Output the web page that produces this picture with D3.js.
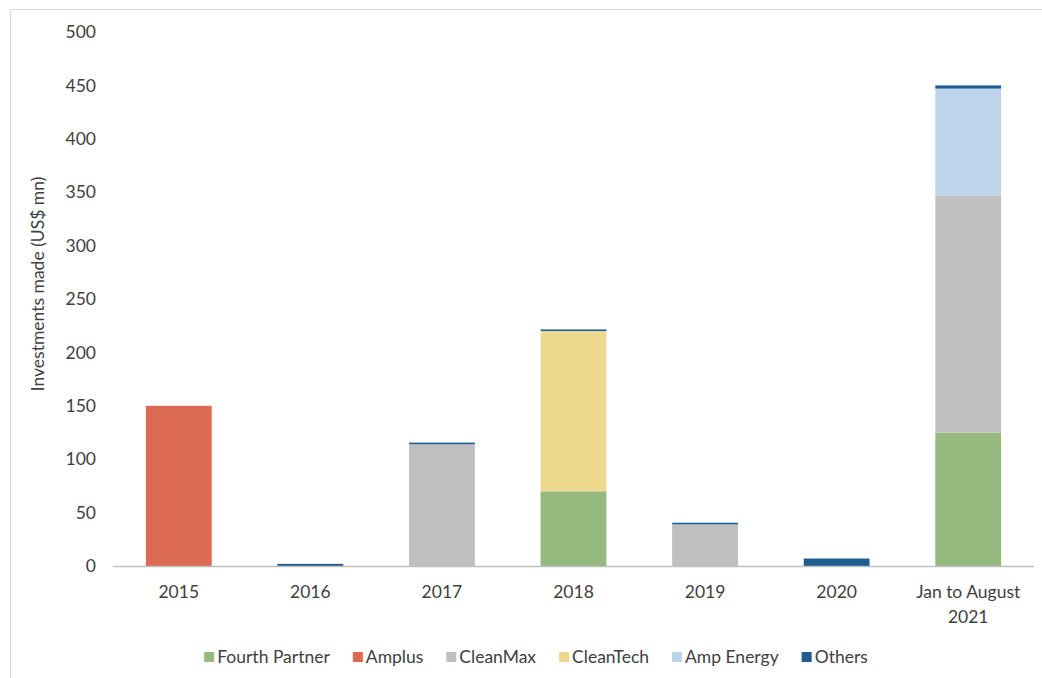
<!DOCTYPE html>
<html>
<head>
<meta charset="utf-8">
<script src="https://cdn.jsdelivr.net/npm/d3@7"></script>
<style>
  body { margin: 0; background: #fff; }
  text { font-family: Lato, "Open Sans", sans-serif; fill: #404040; }
</style>
</head>
<body>
<svg id="chart"></svg>
<script>
var width = 1042, height = 678;

// data
var categories = ["2015", "2016", "2017", "2018", "2019", "2020", "Jan to August 2021"];
var seriesNames = ["Fourth Partner", "Amplus", "CleanMax", "CleanTech", "Amp Energy", "Others"];
var fourthPartner = [0, 0, 0, 70, 0, 0, 125];
var amplus        = [150, 0, 0, 0, 0, 0, 0];
var cleanMax      = [0, 0, 114, 0, 39, 0, 222];
var cleanTech     = [0, 0, 0, 150, 0, 0, 0];
var ampEnergy     = [0, 0, 0, 0, 0, 0, 100];
var others        = [0, 2, 1.5, 1.5, 1.5, 7, 3];
var yTicks = [0, 50, 100, 150, 200, 250, 300, 350, 400, 450, 500];
var colors = ["#96b97f", "#dc6951", "#bfbfbf", "#ecd98e", "#bdd5ea", "#1f5c8f"];

var allSeries = [fourthPartner, amplus, cleanMax, cleanTech, ampEnergy, others];
var rows = categories.map(function(c, i){
    var r = {cat: c};
    seriesNames.forEach(function(s, k){ r[s] = allSeries[k][i]; });
    return r;
});

var fs = "17.5px";

var svg = d3.select("#chart")
        .attr("width", width)
        .attr("height", height);

// outer frame
svg.append("rect")
   .attr("x", 10.5).attr("y", 9.5)
   .attr("width", 1040).attr("height", 680)
   .attr("fill", "none")
   .attr("stroke", "#d9d9d9");

var x = d3.scaleBand()
        .domain(categories)
        .range([113, 1034])
        .paddingInner(0.5)
        .paddingOuter(0.25);

var y = d3.scaleLinear()
        .domain([0, 500])
        .range([566, 32]);

var stack = d3.stack().keys(seriesNames);
var layers = stack(rows);

svg.selectAll(".layer")
   .data(layers)
   .enter()
   .append("g")
   .attr("class", "layer")
   .attr("fill", (d, i) => colors[i])
   .selectAll("rect")
   .data(d => d)
   .enter()
   .append("rect")
   .attr("x", d => x(d.data.cat))
   .attr("width", x.bandwidth())
   .attr("y", d => y(d[1]))
   .attr("height", d => y(d[0]) - y(d[1]));

// y axis labels only
var yAxis = svg.append("g")
        .attr("transform", "translate(96,0)")
        .call(d3.axisLeft(y).tickValues(yTicks).tickSize(0).tickPadding(0));
yAxis.select(".domain").remove();
yAxis.selectAll("text")
     .style("font-size", fs)
     .attr("fill", "#404040")
     .style("font-family", "Lato, sans-serif");

// baseline
svg.append("line")
   .attr("x1", 113).attr("x2", 1034)
   .attr("y1", y(0) + 0.5).attr("y2", y(0) + 0.5)
   .attr("stroke", "#bfbfbf")
   .attr("stroke-width", 1.5);

// x labels
var xl = svg.selectAll(".xlab")
        .data(categories)
        .enter()
        .append("text")
        .attr("class", "xlab")
        .attr("text-anchor", "middle")
        .style("font-size", fs)
        .attr("x", d => x(d) + x.bandwidth() / 2)
        .attr("y", 598);
xl.each(function(d){
    var t = d3.select(this);
    if (d.indexOf("Jan") === 0) {
        t.append("tspan").attr("x", t.attr("x")).attr("dy", 0).text("Jan to August");
        t.append("tspan").attr("x", t.attr("x")).attr("dy", "1.4em").text("2021");
    } else {
        t.text(d);
    }
});

// y title
svg.append("text")
   .attr("transform", "translate(44,284) rotate(-90)")
   .attr("text-anchor", "middle")
   .style("font-size", fs)
   .text("Investments made (US$ mn)");

// legend
var gap = 23;
var legend = svg.append("g").attr("class", "legend");
var items = legend.selectAll("g")
        .data(seriesNames)
        .enter()
        .append("g");
items.append("rect")
     .attr("width", 10).attr("height", 10)
     .attr("y", -11)
     .attr("fill", (d, i) => colors[i]);
items.append("text")
     .attr("x", 13)
     .style("font-size", fs)
     .text(d => d);
var lx = 0;
items.each(function(){
    var g = d3.select(this);
    g.attr("transform", "translate(" + lx + ",0)");
    lx += 13 + g.select("text").node().getComputedTextLength() + gap;
});
lx -= gap;
legend.attr("transform", "translate(" + (536 - lx / 2) + ",663)");
</script>
</body>
</html>
